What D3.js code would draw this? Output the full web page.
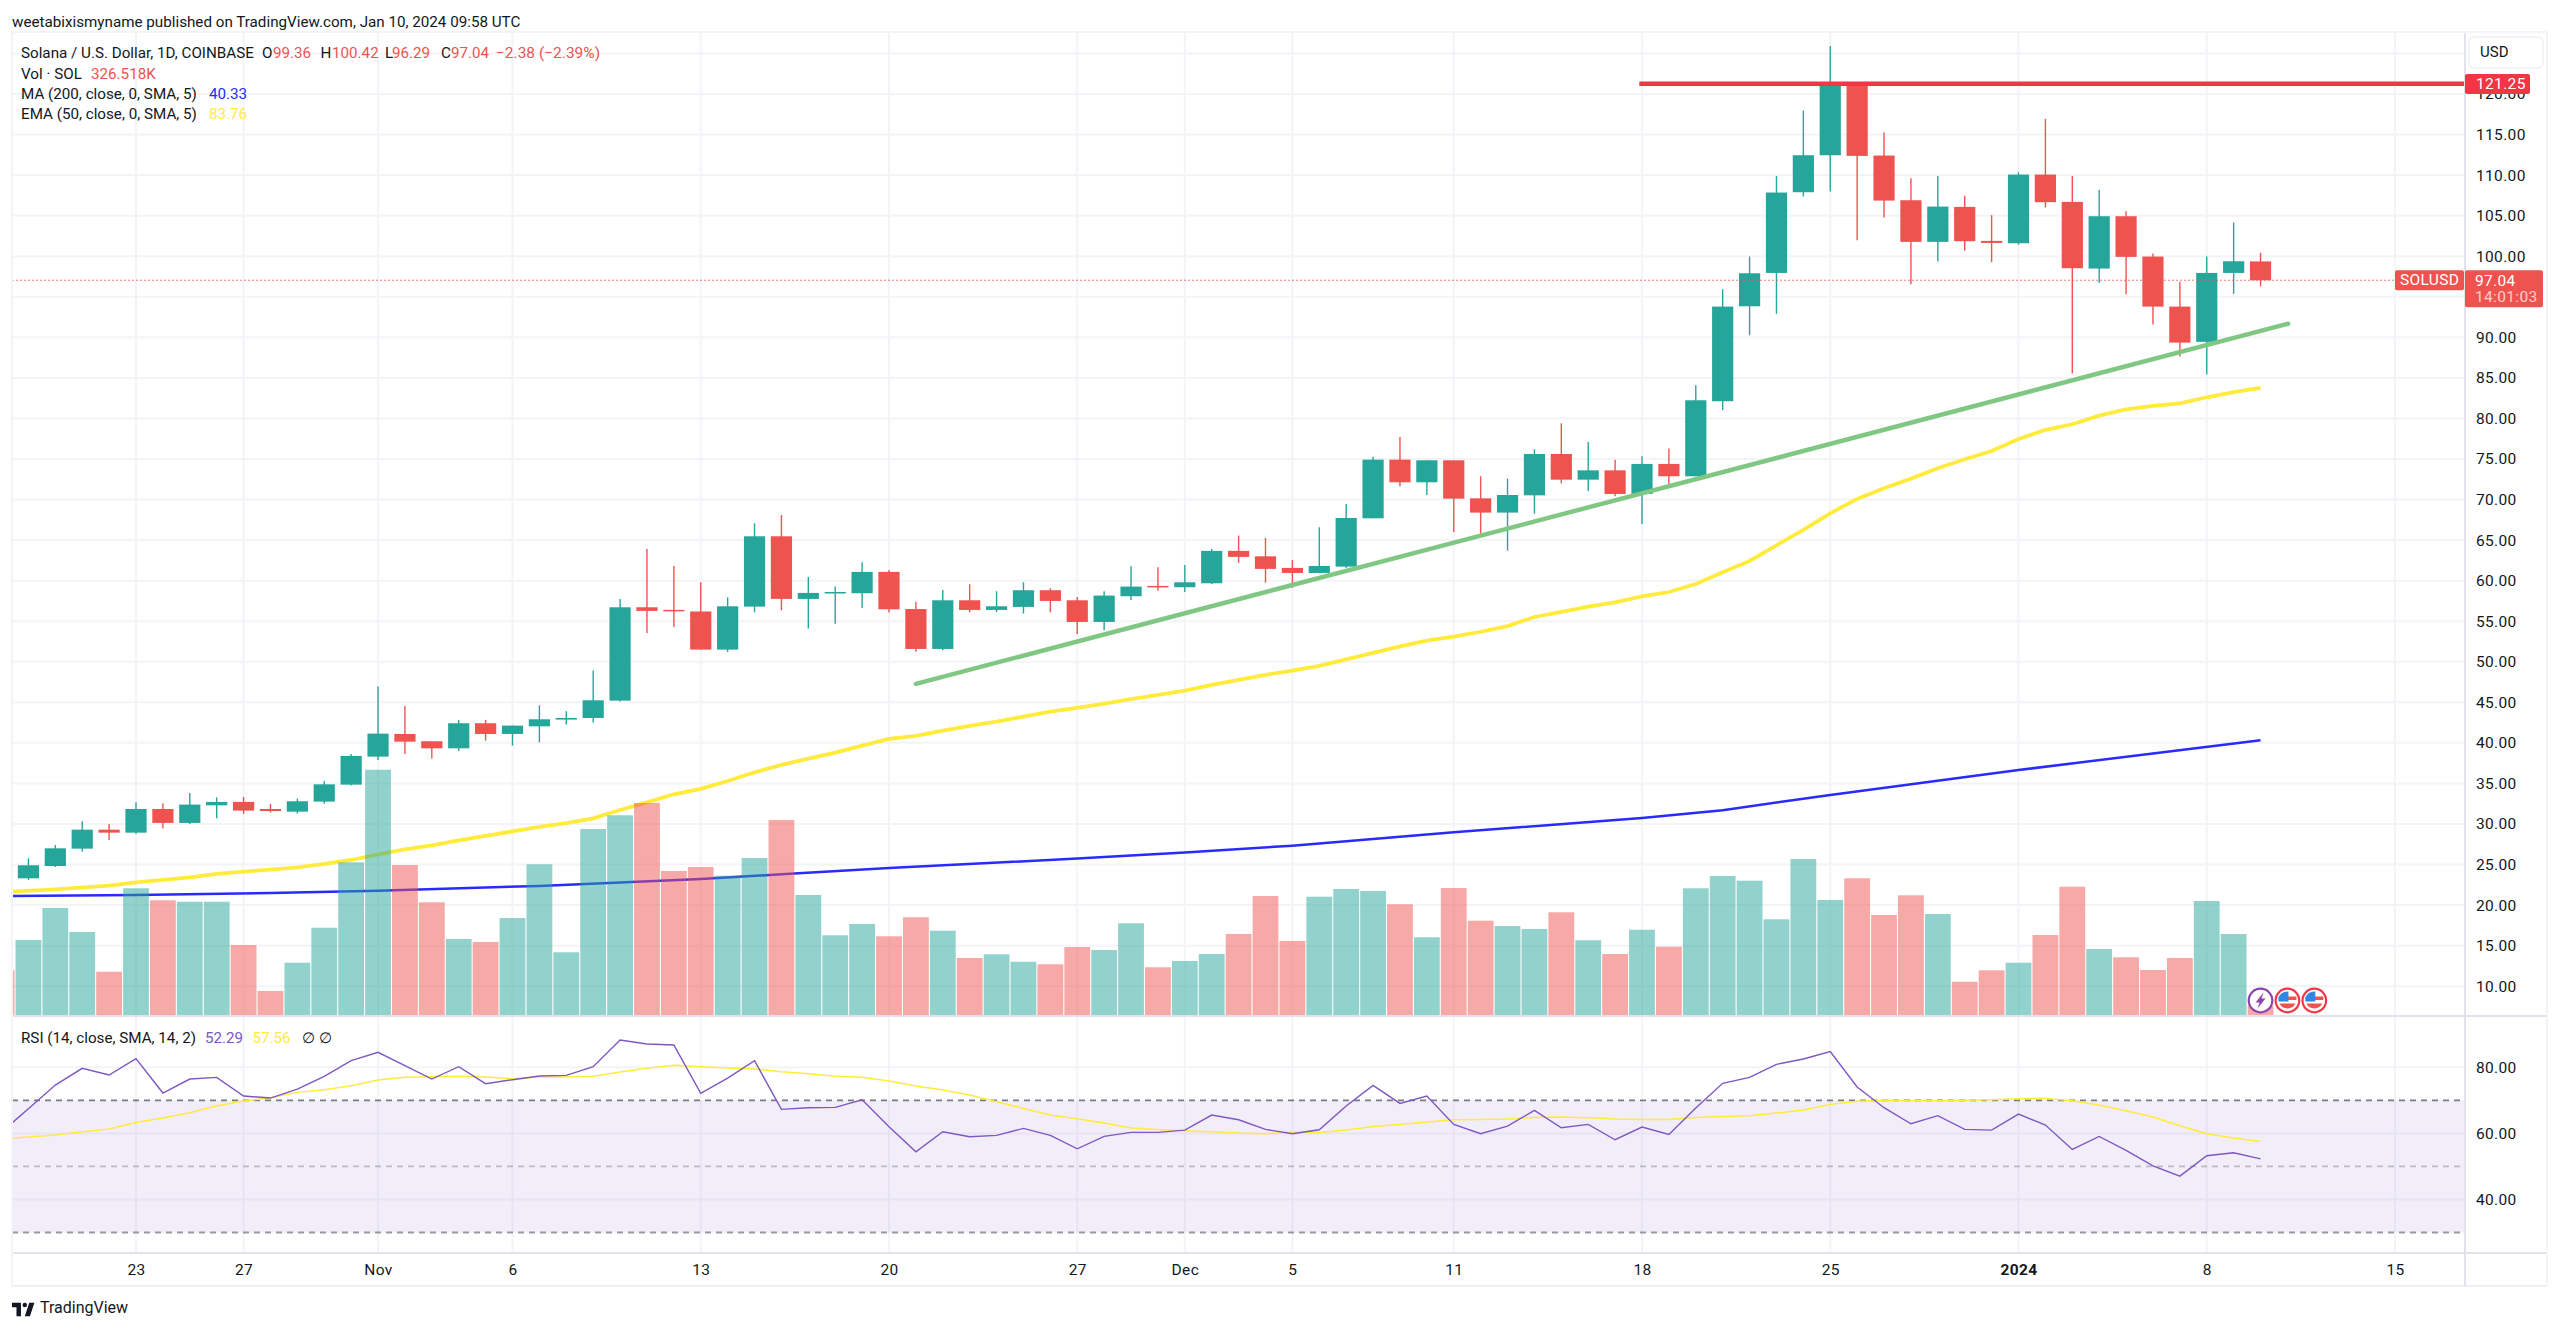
<!DOCTYPE html>
<html>
<head>
<meta charset="utf-8">
<script src="https://cdn.jsdelivr.net/npm/d3@7"></script>
<style>
html,body{margin:0;padding:0;background:#fff;}
svg{display:block;}
text{font-family:Roboto,"Noto Sans",sans-serif;fill:#131722;}
</style>
</head>
<body>
<script>
// Days are counted from 23 Oct 2023 = 0. Candles run from 19 Oct (-4) to 10 Jan (79).
const firstCandleDay = -4;
const opens = [23.30,24.82,26.96,29.30,28.93,31.85,30.13,32.30,32.72,31.85,31.52,32.76,34.85,38.30,41.10,40.20,39.33,42.42,41.10,42.04,42.87,43.07,45.21,56.72,56.40,56.20,51.50,56.80,65.47,57.75,58.45,58.45,61.08,56.50,51.58,57.58,56.39,56.76,58.82,57.58,54.91,58.08,59.35,59.19,59.68,63.67,63.00,61.57,60.95,61.73,67.69,74.92,72.13,74.84,70.15,68.39,70.52,75.62,72.45,73.60,70.69,74.39,72.87,82.12,93.83,97.94,107.89,112.45,121.00,112.41,106.90,101.77,106.08,101.89,101.60,110.07,106.70,98.48,104.93,99.96,93.79,89.44,97.94,99.36];
const highs = [25.77,27.41,30.33,30.00,32.67,32.55,33.82,33.29,33.33,32.47,33.13,35.30,38.63,46.94,44.55,40.20,42.83,42.83,42.13,44.63,43.90,48.91,57.75,63.91,61.82,59.80,57.95,67.08,68.10,60.46,59.27,62.27,61.32,57.38,58.86,59.55,58.70,59.80,59.06,58.00,58.70,61.77,61.65,61.94,63.91,65.56,65.27,62.56,66.58,69.45,75.29,77.70,74.84,74.84,72.87,72.58,76.20,79.40,77.10,74.92,75.33,76.30,84.09,95.93,99.96,109.90,117.96,125.93,121.33,115.25,109.62,109.90,107.44,105.06,110.36,116.93,109.90,108.18,105.55,100.33,96.83,99.96,104.15,100.42];
const lows = [23.10,24.70,26.59,28.03,28.77,29.43,30.00,30.70,31.24,31.40,31.28,32.50,34.73,37.90,38.63,38.06,39.00,40.28,39.66,40.07,42.25,42.50,45.09,53.55,54.30,51.50,51.20,56.10,56.35,54.09,54.70,56.64,56.06,51.25,51.42,56.10,56.14,55.94,56.10,53.43,53.88,57.60,58.77,58.61,59.60,62.19,59.76,59.10,60.90,61.56,67.69,71.60,70.56,66.00,65.67,63.70,68.26,72.00,71.06,70.40,66.99,71.76,72.87,81.01,90.26,92.89,107.36,107.97,101.97,104.77,96.55,99.34,100.66,99.26,101.44,106.00,85.53,96.71,95.31,91.57,87.63,85.41,95.35,96.29];
const closes = [24.91,27.00,29.30,28.93,31.85,30.13,32.39,32.72,31.65,31.60,32.80,34.89,38.39,41.14,40.15,39.33,42.42,41.10,42.13,42.91,43.07,45.25,56.72,56.27,56.30,51.50,56.84,65.47,57.75,58.49,58.60,61.08,56.47,51.58,57.58,56.39,56.84,58.82,57.50,54.91,58.16,59.27,59.19,59.80,63.67,62.93,61.45,60.95,61.81,67.73,74.92,72.13,74.84,70.11,68.39,70.56,75.62,72.45,73.60,70.69,74.39,72.87,82.24,93.79,97.90,107.85,112.45,121.00,112.37,106.86,101.77,106.12,101.85,101.64,110.07,106.66,98.52,104.93,99.92,93.79,89.35,97.94,99.38,97.04];

// Volume in thousands of SOL, starting one day earlier (18 Oct, cut by the pane edge, a down day).
const firstVolumeDay = -5;
const leadingVolumeIsDown = true;
const volumes = [1565,2625,3745,2905,1515,4435,4015,3965,3965,2450,840,1830,3055,5345,8585,5250,3945,2660,2555,3395,5275,2195,6510,6990,7420,5040,5180,4875,5495,6825,4200,2790,3185,2755,3420,2950,1995,2125,1865,1775,2380,2275,3210,1670,1890,2135,2835,4165,2590,4140,4410,4340,3875,2720,4445,3300,3115,3010,3595,2615,2135,2985,2390,4435,4865,4700,3350,5460,4025,4785,3500,4190,3535,1165,1565,1830,2800,4490,2310,2020,1575,1995,3990,2835,326.518];

const emaDays = [-5,-3,-1,0,2,3,4,6,7,8,9,10,11,12,13,14,15,16,17,18,19,20,21,22,23,24,25,26,27,28,29,30,31,32,33,34,35,36,37,38,39,40,41,42,43,44,45,46,47,48,49,50,51,52,53,54,55,56,57,58,59,60,61,62,63,64,65,66,67,68,69,70,71,72,73,74,75,76,77,78,79];
const emaValues = [21.60,21.95,22.40,22.81,23.43,23.84,24.12,24.66,25.07,25.56,26.26,26.88,27.37,27.99,28.52,29.10,29.63,30.12,30.70,31.73,32.67,33.66,34.32,35.30,36.37,37.28,38.06,38.80,39.66,40.48,40.85,41.51,42.09,42.62,43.24,43.85,44.31,44.84,45.38,45.91,46.44,47.14,47.76,48.38,48.91,49.50,50.30,51.10,51.90,52.60,53.10,53.70,54.40,55.52,56.14,56.79,57.33,58.07,58.60,59.59,61.03,62.43,64.36,66.25,68.30,70.08,71.39,72.58,73.86,74.97,75.99,77.47,78.58,79.28,80.35,81.13,81.54,81.87,82.61,83.23,83.76];
const maDays = [-5,0,5,9,15,21,24,28,35,39,43,49,56,59,63,70,75,79];
const maValues = [21.12,21.25,21.50,21.78,22.36,23.22,23.80,24.58,25.73,26.47,27.33,28.98,30.74,31.70,33.58,36.65,38.70,40.33];

const rsiDays = d3.range(-5, 80);
const rsiValues = [60.4,67.46,74.63,79.68,77.66,82.61,72.21,76.45,76.96,71.30,70.69,73.42,77.26,82.01,84.53,80.49,76.45,80.19,75.04,76.25,77.36,77.56,80.19,88.27,87.06,86.75,72.11,76.75,82.01,67.26,67.76,67.87,70.19,62.00,54.43,60.49,58.98,59.38,61.50,59.38,55.34,59.08,60.29,60.29,61.00,65.54,64.13,61.20,59.89,61.10,68.27,74.53,69.08,71.30,62.71,59.89,62.21,66.96,61.70,62.71,58.07,61.91,59.68,67.66,75.14,76.96,80.90,82.52,84.74,74.03,67.77,62.92,65.35,61.20,61.00,65.85,62.52,55.14,59.08,54.84,50.19,47.06,53.22,54.13,52.29];
const rsiMaValues = [58.47,58.87,59.48,60.49,61.30,63.32,64.63,66.25,68.37,69.78,70.79,72.41,73.22,74.43,76.15,76.96,77.16,77.26,77.06,76.55,77.06,77.06,77.26,78.57,79.68,80.59,80.19,79.78,79.48,78.67,78.07,77.26,76.96,75.84,74.33,73.12,71.60,69.58,67.56,65.54,64.43,63.12,61.60,61.20,60.79,60.49,60.09,59.89,60.39,60.29,61.00,62.11,62.71,63.42,64.13,64.23,64.33,64.83,64.94,64.73,64.33,64.23,64.23,64.83,65.14,65.35,66.15,67.06,68.78,69.69,69.99,69.89,69.89,69.99,70.19,70.49,70.60,69.89,68.58,66.86,64.94,62.31,59.89,58.58,57.56];

const trendDays = [29.0, 80.03];
const trendValues = [47.28, 91.68];
const resistanceStartDay = 55.9;
const resistanceValue = 121.25;
const lastPrice = 97.04;

const priceGridTicks = d3.range(10, 125.01, 5);
// 95 and 125 sit behind the price tag and the currency button in the reference.
const priceLabelTicks = priceGridTicks.filter(d => d !== 95 && d !== 125);
const rsiTicks = [80, 60, 40];
const rsiBands = [70, 50, 30];
const timeTickDays = [0,4,9,14,21,28,35,39,43,49,56,63,70,77,84];
const timeTickLabels = ["23","27","Nov","6","13","20","27","Dec","5","11","18","25","2024","8","15"];
const eventDays = [79,80,81];
const eventKinds = ["bolt","flag","flag"];

const UP="#26a69a", DOWN="#ef5350", GRID="#f3f4f7", BORDER="#e0e3eb";
const W=2560,H=1328, L=12, AX=2465, RB=2547, TOP=32, PANE=1016, RSIB=1253, TIMEB=1286;

const x=d3.scaleLinear().domain([0,84]).range([136,2395]);
const y=d3.scaleLinear().domain([10,120]).range([986.2,94]);
const yVol=d3.scaleLinear().domain([0,10500]).range([1015,715]);
const yRsi=d3.scaleLinear().domain([30,80]).range([1232.5,1067.3]);

const svg=d3.select("body").append("svg").attr("width",W).attr("height",H);
const defs=svg.append("defs");
defs.append("clipPath").attr("id","main").append("rect").attr("x",L).attr("y",TOP).attr("width",AX-L).attr("height",PANE-TOP);
defs.append("clipPath").attr("id","rsi").append("rect").attr("x",L).attr("y",PANE).attr("width",AX-L).attr("height",RSIB-PANE);

// gridlines
const grid=svg.append("g").attr("fill","none").attr("stroke",GRID).attr("stroke-width",2);
grid.selectAll("line.h").data(priceGridTicks).join("line").attr("class","h").attr("x1",L).attr("x2",AX).attr("y1",y).attr("y2",y);
grid.selectAll("line.r").data(rsiTicks).join("line").attr("class","r").attr("x1",L).attr("x2",AX).attr("y1",yRsi).attr("y2",yRsi);
grid.selectAll("line.v").data(timeTickDays).join("line").attr("class","v").attr("x1",x).attr("x2",x).attr("y1",TOP).attr("y2",RSIB);

// main pane
const main=svg.append("g").attr("clip-path","url(#main)");
const lineXY=(xs,ys,sy)=>d3.line().x((d,i)=>x(xs[i])).y((d,i)=>sy(ys[i]))(xs);
main.append("path").attr("d",lineXY(maDays,maValues,y)).attr("fill","none").attr("stroke","#2a2aff").attr("stroke-width",2.5);
main.append("path").attr("d",lineXY(emaDays,emaValues,y)).attr("fill","none").attr("stroke","#ffeb3b").attr("stroke-width",3.8);

// volume
const isUp=i=>closes[i]>=opens[i];
main.selectAll("rect.vol").data(volumes).join("rect").attr("class","vol")
  .attr("x",(d,i)=>x(firstVolumeDay+i)-12.9).attr("width",25.8)
  .attr("y",d=>yVol(d)).attr("height",d=>yVol(0)-yVol(d))
  .attr("fill",(d,i)=>{
    const down=i===0?leadingVolumeIsDown:!isUp(i-1);
    return down?"rgba(239,83,80,0.5)":"rgba(38,166,154,0.5)";
  });

// candles
const candle=main.selectAll("g.c").data(d3.range(opens.length)).join("g").attr("class","c");
candle.append("line")
  .attr("x1",i=>x(firstCandleDay+i)).attr("x2",i=>x(firstCandleDay+i))
  .attr("y1",i=>y(highs[i])).attr("y2",i=>y(lows[i]))
  .attr("stroke",i=>isUp(i)?UP:DOWN).attr("stroke-width",1.4);
candle.append("rect")
  .attr("x",i=>x(firstCandleDay+i)-10.6).attr("width",21.2)
  .attr("y",i=>y(Math.max(opens[i],closes[i])))
  .attr("height",i=>Math.max(1.5,Math.abs(y(opens[i])-y(closes[i]))))
  .attr("fill",i=>isUp(i)?UP:DOWN);

// drawings
main.append("path").attr("d",lineXY(trendDays,trendValues,y)).attr("fill","none").attr("stroke","#81c784").attr("stroke-width",4.5).attr("stroke-linecap","round");
main.append("line").attr("x1",x(resistanceStartDay)).attr("x2",AX).attr("y1",y(resistanceValue)).attr("y2",y(resistanceValue)).attr("stroke","#f23645").attr("stroke-width",4.5);
main.append("line").attr("x1",L).attr("x2",AX).attr("y1",y(lastPrice)).attr("y2",y(lastPrice)).attr("stroke",DOWN).attr("stroke-opacity",0.75).attr("stroke-width",1.2).attr("stroke-dasharray","2 2");

// event icons
const ev=main.selectAll("g.ev").data(eventDays).join("g").attr("class","ev").attr("transform",d=>`translate(${x(d)},1000.5)`);
ev.each(function(d,i){
  const g=d3.select(this);
  if(eventKinds[i]==="bolt"){
    g.append("circle").attr("r",11.8).attr("fill","#fff").attr("stroke","#8e44ad").attr("stroke-width",2.2);
    g.append("path").attr("d","M3,-8 L-5,2 L-1,2 L-3,8 L5,-2 L1,-2 Z").attr("fill","#8e44ad");
  } else {
    g.append("circle").attr("r",11.8).attr("fill","#fff").attr("stroke","#f23645").attr("stroke-width",2.2);
    g.append("rect").attr("x",-1).attr("y",-4).attr("width",10).attr("height",3.5).attr("fill","#ef5350");
    g.append("path").attr("d","M-8,3 L8,3 A9,9 0 0 1 -8,3 Z").attr("fill","#ef5350");
    g.append("path").attr("d","M-9,1 L-9,-3 A10,10 0 0 1 0,-9 L1,-9 L1,1 Z").attr("fill","#2e86e8");
  }
});

// RSI pane
const rsi=svg.append("g").attr("clip-path","url(#rsi)");
rsi.append("rect").attr("x",L).attr("width",AX-L).attr("y",yRsi(70)).attr("height",yRsi(30)-yRsi(70)).attr("fill","#7e57c2").attr("fill-opacity",0.1);
const bandOpacity=[1,0.45,0.75];
rsi.selectAll("line.b").data(rsiBands).join("line").attr("class","b")
  .attr("x1",L).attr("x2",AX).attr("y1",yRsi).attr("y2",yRsi)
  .attr("stroke","#787b86").attr("stroke-width",1.9).attr("stroke-dasharray","6 5")
  .attr("stroke-opacity",(d,i)=>bandOpacity[i]);
rsi.append("path").attr("d",lineXY(rsiDays,rsiMaValues,yRsi)).attr("fill","none").attr("stroke","#ffeb3b").attr("stroke-width",1.5);
rsi.append("path").attr("d",lineXY(rsiDays,rsiValues,yRsi)).attr("fill","none").attr("stroke","#7e57c2").attr("stroke-width",1.4);

// frame
const frame=svg.append("g").attr("stroke",BORDER).attr("stroke-width",2).attr("fill","none");
frame.append("line").attr("x1",L).attr("x2",RB).attr("y1",PANE).attr("y2",PANE);
frame.append("line").attr("x1",L).attr("x2",RB).attr("y1",RSIB).attr("y2",RSIB);
frame.append("line").attr("x1",L).attr("x2",RB).attr("y1",TIMEB).attr("y2",TIMEB).attr("stroke","#eef0f4");
frame.append("line").attr("x1",AX).attr("x2",AX).attr("y1",TOP).attr("y2",TIMEB);
frame.append("line").attr("x1",L).attr("x2",RB).attr("y1",TOP).attr("y2",TOP).attr("stroke",GRID);
frame.append("line").attr("x1",L).attr("x2",L).attr("y1",TOP).attr("y2",TIMEB).attr("stroke",GRID);
frame.append("line").attr("x1",RB).attr("x2",RB).attr("y1",TOP).attr("y2",TIMEB).attr("stroke",GRID);

// axes
const axisFont=15.5;
const priceAxis=svg.append("g").attr("transform",`translate(${AX},0)`)
  .call(d3.axisRight(y).tickValues(priceLabelTicks).tickFormat(d3.format(".2f")).tickSize(0).tickPadding(11));
const rsiAxis=svg.append("g").attr("transform",`translate(${AX},0)`)
  .call(d3.axisRight(yRsi).tickValues(rsiTicks).tickFormat(d3.format(".2f")).tickSize(0).tickPadding(11));
const timeAxis=svg.append("g").attr("transform",`translate(0,${RSIB})`)
  .call(d3.axisBottom(x).tickValues(timeTickDays).tickFormat((d,i)=>timeTickLabels[i]).tickSize(0).tickPadding(11));
[priceAxis,rsiAxis,timeAxis].forEach(a=>{
  a.select(".domain").remove();
  a.selectAll("text").attr("font-family","Roboto").attr("font-size",axisFont).attr("letter-spacing",0.35).style("fill","#131722");
});
timeAxis.selectAll("text").filter((d,i)=>timeTickLabels[i]==="2024").attr("font-weight",700);

// price tags
function tag(x0,y0,w,h,fill,r){svg.append("rect").attr("x",x0).attr("y",y0).attr("width",w).attr("height",h).attr("rx",r).attr("fill",fill);}
function label(t,xp,yp,opts={}){
  const n=svg.append("text").attr("x",xp).attr("y",yp).attr("dominant-baseline","central").attr("font-size",opts.size||15.5).text(t);
  if(opts.fill) n.style("fill",opts.fill);
  if(opts.anchor) n.attr("text-anchor",opts.anchor);
  if(opts.weight) n.attr("font-weight",opts.weight);
  if(opts.ls) n.attr("letter-spacing",opts.ls);
  if(opts.op) n.style("fill-opacity",opts.op);
  return n;
}
tag(AX+4,37,74,31,"#fff",5);
svg.append("rect").attr("x",AX+4).attr("y",37).attr("width",74).attr("height",31).attr("rx",5).attr("fill","none").attr("stroke","#eef0f4").attr("stroke-width",1.5);
label("USD",2480,52,{size:15});
tag(AX,74,65,20,"#f23645",2);
label(d3.format(".2f")(resistanceValue),AX+11,84,{fill:"#fff",ls:0.35});
tag(2395,y(lastPrice)-10,69,20,DOWN,2);
label("SOLUSD",2400,y(lastPrice),{fill:"#fff",ls:0.35});
tag(AX,y(lastPrice)-10,78,37,DOWN,2);
label(d3.format(".2f")(lastPrice),AX+10,y(lastPrice)+0.5,{fill:"#fff",ls:0.35});
label("14:01:03",AX+10,y(lastPrice)+17,{fill:"#fff",op:0.72,ls:0.35});

// header + legends
const T=15.2;
label("weetabixismyname published on TradingView.com, Jan 10, 2024 09:58 UTC",12,21.5,{size:T});
label("Solana / U.S. Dollar, 1D, COINBASE",21,53,{size:T});
[["O",262,"99.36",273],["H",320.5,"100.42",332],["L",385,"96.29",392],["C",441,"97.04",451]].forEach(r=>{
  label(r[0],r[1],53,{size:T}); label(r[2],r[3],53,{size:T,fill:DOWN});
});
label("\u22122.38 (\u22122.39%)",496,53,{size:15.5,fill:DOWN});
label("Vol \u00b7 SOL",21,74,{size:T}); label("326.518K",91,74,{size:T,fill:DOWN});
label("MA (200, close, 0, SMA, 5)",21,94,{size:T}); label("40.33",209,94,{size:T,fill:"#2a2aff"});
label("EMA (50, close, 0, SMA, 5)",21,114,{size:T}); label("83.76",209,114,{size:T,fill:"#ffeb3b"});
label("RSI (14, close, SMA, 14, 2)",21,1038,{size:T});
label("52.29",205,1038,{size:T,fill:"#7e57c2"});
label("57.56",252.5,1038,{size:T,fill:"#ffeb3b"});
label("\u2205",302,1038,{size:T}); label("\u2205",319,1038,{size:T});

// logo
const logo=svg.append("g").attr("transform","translate(12,1299) scale(0.64)").attr("fill","#131722");
logo.append("path").attr("d","M14 6H0v7h7v14h7V6Z");
logo.append("circle").attr("cx",20).attr("cy",9.5).attr("r",3.5);
logo.append("path").attr("d","M28 27h-8L27 6h8l-7 21Z");
label("TradingView",40,1307,{size:16,weight:400});
</script>
</body>
</html>
